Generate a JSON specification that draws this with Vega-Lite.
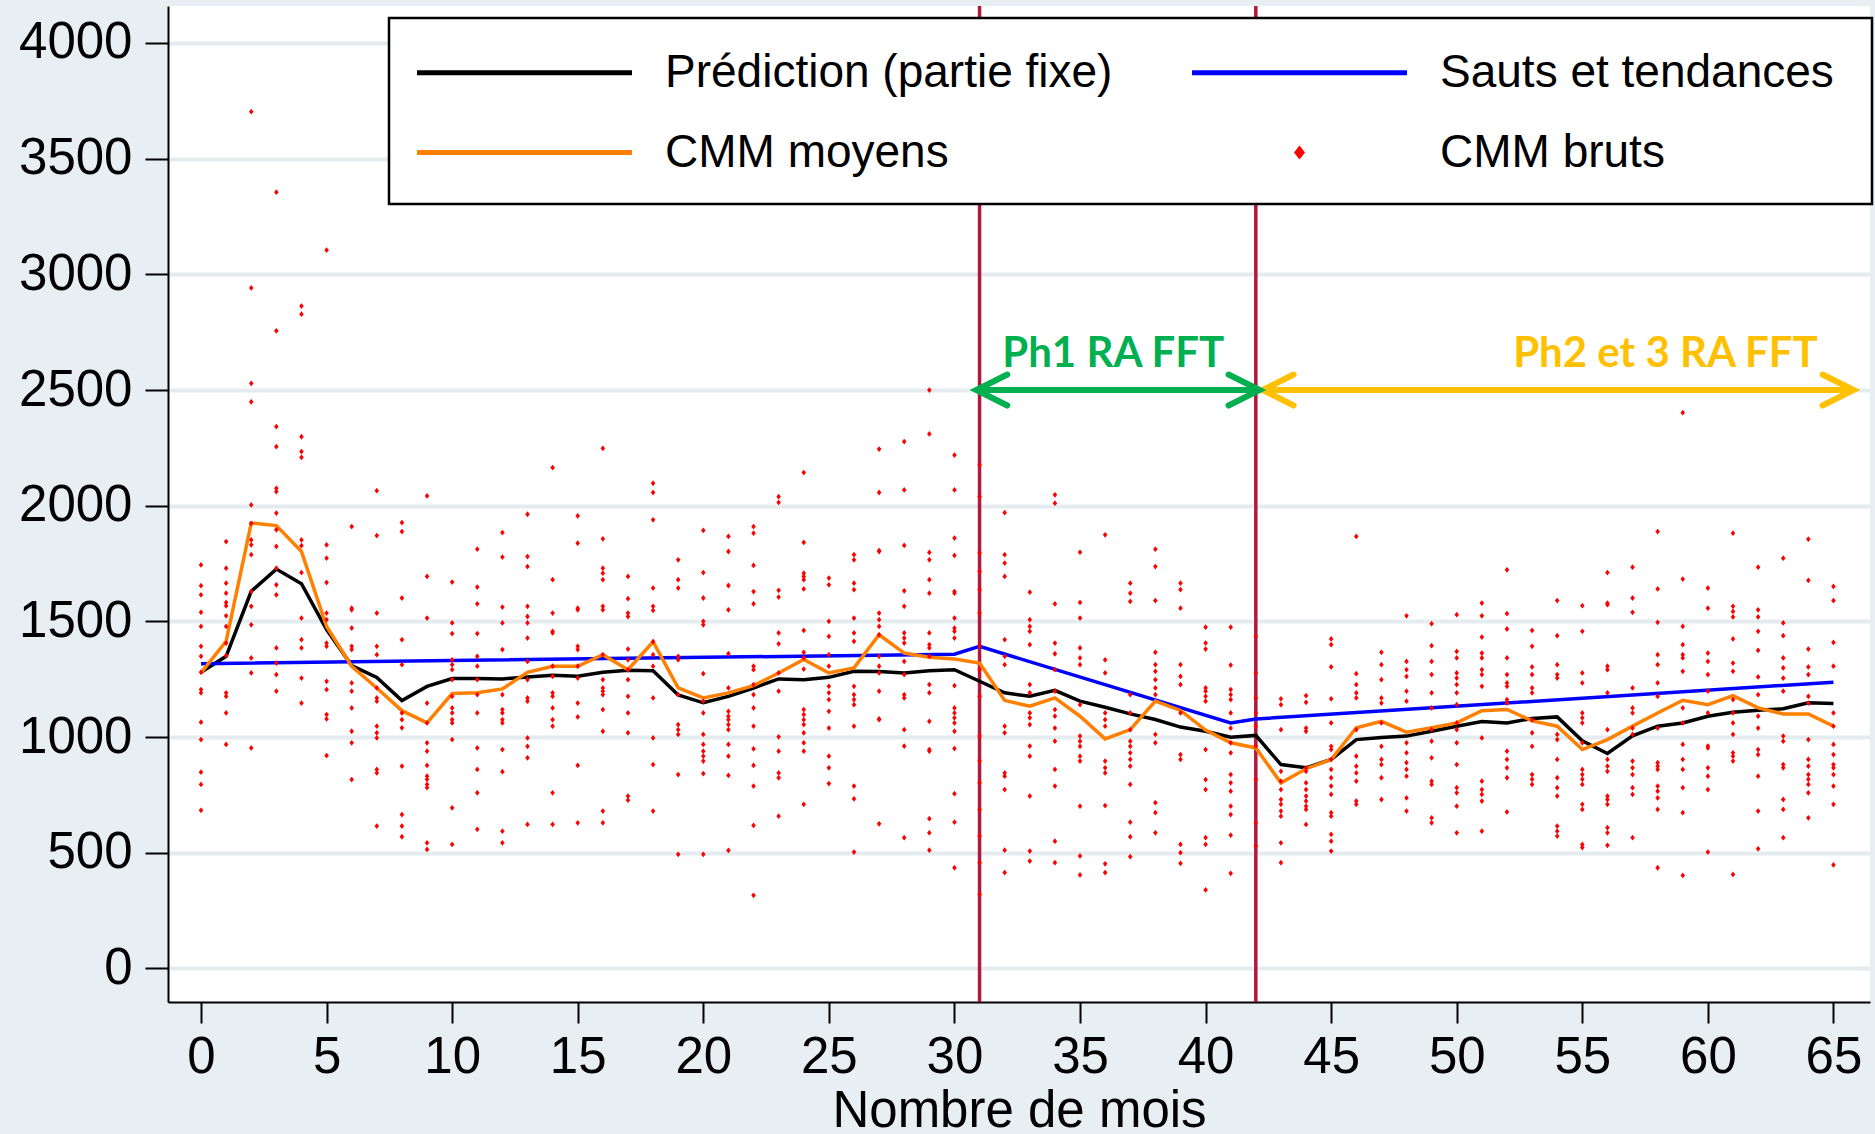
{
  "$schema": "https://vega.github.io/schema/vega-lite/v6.json",
  "width": 1702,
  "height": 996,
  "autosize": {"type": "none"},
  "padding": {"left": 168, "top": 6, "right": 5, "bottom": 132},
  "background": "#E8EFF2",
  "config": {
    "view": {"fill": "white", "stroke": null},
    "font": "Liberation Sans",
    "axis": {"domainColor": "black", "domainWidth": 2, "tickColor": "black", "tickWidth": 2, "labelFont": "Liberation Sans", "labelFontSize": 51, "labelColor": "black", "titleFont": "Liberation Sans", "titleFontSize": 51, "titleColor": "black", "titleFontWeight": "normal", "labelOverlap": false, "labelFlush": false},
    "axisX": {"grid": false, "tickSize": 21, "labelPadding": 9, "titlePadding": 4},
    "axisY": {"grid": true, "gridColor": "#E4ECEF", "gridWidth": 4, "tickSize": 23, "labelPadding": 13},
    "legend": {"strokeWidth": 2.5}
  },
  "datasets": {
    "vlines": [{"m": 31}, {"m": 42}],
    "pred": [
      {"m":0,"v":1280},{"m":1,"v":1349},{"m":2,"v":1630},{"m":3,"v":1726},{"m":4,"v":1663},{"m":5,"v":1464},{"m":6,"v":1309},{"m":7,"v":1258},{"m":8,"v":1158},{"m":9,"v":1219},
      {"m":10,"v":1253},{"m":11,"v":1253},{"m":12,"v":1251},{"m":13,"v":1260},{"m":14,"v":1267},{"m":15,"v":1263},{"m":16,"v":1280},{"m":17,"v":1289},{"m":18,"v":1287},{"m":19,"v":1182},
      {"m":20,"v":1148},{"m":21,"v":1176},{"m":22,"v":1212},{"m":23,"v":1251},{"m":24,"v":1248},{"m":25,"v":1258},{"m":26,"v":1284},{"m":27,"v":1283},{"m":28,"v":1277},{"m":29,"v":1287},
      {"m":30,"v":1291},{"m":31,"v":1241},{"m":32,"v":1191},{"m":33,"v":1176},{"m":34,"v":1202},{"m":35,"v":1155},{"m":36,"v":1129},{"m":37,"v":1100},{"m":38,"v":1076},{"m":39,"v":1043},
      {"m":40,"v":1025},{"m":41,"v":999},{"m":42,"v":1007},{"m":43,"v":881},{"m":44,"v":867},{"m":45,"v":903},{"m":46,"v":989},{"m":47,"v":998},{"m":48,"v":1004},{"m":49,"v":1025},
      {"m":50,"v":1047},{"m":51,"v":1067},{"m":52,"v":1061},{"m":53,"v":1080},{"m":54,"v":1087},{"m":55,"v":984},{"m":56,"v":929},{"m":57,"v":1005},{"m":58,"v":1047},{"m":59,"v":1061},
      {"m":60,"v":1090},{"m":61,"v":1107},{"m":62,"v":1116},{"m":63,"v":1122},{"m":64,"v":1148},{"m":65,"v":1145}
    ],
    "trend": [{"m":0,"v":1317},{"m":30,"v":1358},{"m":31,"v":1392},{"m":41,"v":1061},{"m":42,"v":1078},{"m":65,"v":1237}],
    "moy": [
      {"m":0,"v":1277},{"m":1,"v":1414},{"m":2,"v":1925},{"m":3,"v":1914},{"m":4,"v":1802},{"m":5,"v":1478},{"m":6,"v":1306},{"m":7,"v":1212},{"m":8,"v":1114},{"m":9,"v":1061},
      {"m":10,"v":1188},{"m":11,"v":1191},{"m":12,"v":1208},{"m":13,"v":1280},{"m":14,"v":1306},{"m":15,"v":1306},{"m":16,"v":1356},{"m":17,"v":1291},{"m":18,"v":1412},{"m":19,"v":1213},
      {"m":20,"v":1169},{"m":21,"v":1191},{"m":22,"v":1222},{"m":23,"v":1277},{"m":24,"v":1335},{"m":25,"v":1277},{"m":26,"v":1299},{"m":27,"v":1442},{"m":28,"v":1363},{"m":29,"v":1345},
      {"m":30,"v":1337},{"m":31,"v":1320},{"m":32,"v":1158},{"m":33,"v":1133},{"m":34,"v":1169},{"m":35,"v":1090},{"m":36,"v":992},{"m":37,"v":1032},{"m":38,"v":1155},{"m":39,"v":1115},
      {"m":40,"v":1030},{"m":41,"v":975},{"m":42,"v":953},{"m":43,"v":802},{"m":44,"v":863},{"m":45,"v":903},{"m":46,"v":1040},{"m":47,"v":1068},{"m":48,"v":1021},{"m":49,"v":1040},
      {"m":50,"v":1061},{"m":51,"v":1114},{"m":52,"v":1119},{"m":53,"v":1070},{"m":54,"v":1047},{"m":55,"v":946},{"m":56,"v":989},{"m":57,"v":1047},{"m":58,"v":1104},{"m":59,"v":1159},
      {"m":60,"v":1140},{"m":61,"v":1179},{"m":62,"v":1126},{"m":63,"v":1100},{"m":64,"v":1100},{"m":65,"v":1047}
    ],
    "brut": [
      {"m":0,"v":1744},{"m":0,"v":1654},{"m":0,"v":1615},{"m":0,"v":1539},{"m":0,"v":1478},{"m":0,"v":1392},{"m":0,"v":1349},{"m":0,"v":1280},{"m":0,"v":1205},{"m":0,"v":1191},{"m":0,"v":1064},{"m":0,"v":989},{"m":0,"v":848},{"m":0,"v":795},{"m":0,"v":683},
      {"m":1,"v":1845},{"m":1,"v":1730},{"m":1,"v":1665},{"m":1,"v":1622},{"m":1,"v":1582},{"m":1,"v":1567},{"m":1,"v":1524},{"m":1,"v":1478},{"m":1,"v":1406},{"m":1,"v":1352},{"m":1,"v":1191},{"m":1,"v":1176},{"m":1,"v":1104},{"m":1,"v":968},
      {"m":2,"v":3703},{"m":2,"v":2941},{"m":2,"v":2529},{"m":2,"v":2449},{"m":2,"v":2003},{"m":2,"v":1924},{"m":2,"v":1852},{"m":2,"v":1831},{"m":2,"v":1788},{"m":2,"v":1629},{"m":2,"v":1565},{"m":2,"v":1485},{"m":2,"v":1342},{"m":2,"v":1277},{"m":2,"v":953},
      {"m":3,"v":3355},{"m":3,"v":2756},{"m":3,"v":2342},{"m":3,"v":2255},{"m":3,"v":2075},{"m":3,"v":2061},{"m":3,"v":1968},{"m":3,"v":1896},{"m":3,"v":1824},{"m":3,"v":1730},{"m":3,"v":1658},{"m":3,"v":1615},{"m":3,"v":1385},{"m":3,"v":1320},{"m":3,"v":1270},{"m":3,"v":1198},
      {"m":4,"v":2863},{"m":4,"v":2828},{"m":4,"v":2298},{"m":4,"v":2234},{"m":4,"v":2209},{"m":4,"v":1852},{"m":4,"v":1827},{"m":4,"v":1711},{"m":4,"v":1514},{"m":4,"v":1421},{"m":4,"v":1385},{"m":4,"v":1255},{"m":4,"v":1147},
      {"m":5,"v":3105},{"m":5,"v":1831},{"m":5,"v":1773},{"m":5,"v":1668},{"m":5,"v":1536},{"m":5,"v":1507},{"m":5,"v":1406},{"m":5,"v":1392},{"m":5,"v":1241},{"m":5,"v":1205},{"m":5,"v":1097},{"m":5,"v":1078},{"m":5,"v":920},
      {"m":6,"v":1910},{"m":6,"v":1557},{"m":6,"v":1550},{"m":6,"v":1471},{"m":6,"v":1392},{"m":6,"v":1378},{"m":6,"v":1234},{"m":6,"v":1198},{"m":6,"v":1126},{"m":6,"v":1025},{"m":6,"v":975},{"m":6,"v":816},
      {"m":7,"v":2065},{"m":7,"v":1871},{"m":7,"v":1536},{"m":7,"v":1392},{"m":7,"v":1356},{"m":7,"v":1212},{"m":7,"v":1169},{"m":7,"v":1155},{"m":7,"v":1047},{"m":7,"v":1018},{"m":7,"v":996},{"m":7,"v":860},{"m":7,"v":845},{"m":7,"v":615},
      {"m":8,"v":1927},{"m":8,"v":1888},{"m":8,"v":1601},{"m":8,"v":1421},{"m":8,"v":1313},{"m":8,"v":1104},{"m":8,"v":1075},{"m":8,"v":1040},{"m":8,"v":874},{"m":8,"v":665},{"m":8,"v":615},{"m":8,"v":569},
      {"m":9,"v":2042},{"m":9,"v":1694},{"m":9,"v":1514},{"m":9,"v":1147},{"m":9,"v":1061},{"m":9,"v":975},{"m":9,"v":939},{"m":9,"v":877},{"m":9,"v":831},{"m":9,"v":817},{"m":9,"v":795},{"m":9,"v":781},{"m":9,"v":543},{"m":9,"v":514},
      {"m":10,"v":1670},{"m":10,"v":1493},{"m":10,"v":1447},{"m":10,"v":1334},{"m":10,"v":1313},{"m":10,"v":1291},{"m":10,"v":1248},{"m":10,"v":1176},{"m":10,"v":1126},{"m":10,"v":1104},{"m":10,"v":1075},{"m":10,"v":1061},{"m":10,"v":989},{"m":10,"v":694},{"m":10,"v":536},
      {"m":11,"v":1812},{"m":11,"v":1648},{"m":11,"v":1576},{"m":11,"v":1447},{"m":11,"v":1349},{"m":11,"v":1306},{"m":11,"v":1248},{"m":11,"v":1183},{"m":11,"v":1104},{"m":11,"v":953},{"m":11,"v":860},{"m":11,"v":759},{"m":11,"v":601},
      {"m":12,"v":1884},{"m":12,"v":1778},{"m":12,"v":1562},{"m":12,"v":1493},{"m":12,"v":1378},{"m":12,"v":1183},{"m":12,"v":1119},{"m":12,"v":1104},{"m":12,"v":1075},{"m":12,"v":1061},{"m":12,"v":946},{"m":12,"v":850},{"m":12,"v":593},{"m":12,"v":543},
      {"m":13,"v":1963},{"m":13,"v":1780},{"m":13,"v":1737},{"m":13,"v":1565},{"m":13,"v":1521},{"m":13,"v":1493},{"m":13,"v":1428},{"m":13,"v":1327},{"m":13,"v":1248},{"m":13,"v":1169},{"m":13,"v":1155},{"m":13,"v":996},{"m":13,"v":960},{"m":13,"v":910},{"m":13,"v":622},
      {"m":14,"v":2165},{"m":14,"v":1680},{"m":14,"v":1536},{"m":14,"v":1457},{"m":14,"v":1450},{"m":14,"v":1306},{"m":14,"v":1262},{"m":14,"v":1191},{"m":14,"v":1176},{"m":14,"v":1126},{"m":14,"v":1075},{"m":14,"v":1047},{"m":14,"v":759},{"m":14,"v":622},
      {"m":15,"v":1956},{"m":15,"v":1838},{"m":15,"v":1557},{"m":15,"v":1550},{"m":15,"v":1392},{"m":15,"v":1378},{"m":15,"v":1306},{"m":15,"v":1255},{"m":15,"v":1147},{"m":15,"v":1087},{"m":15,"v":877},{"m":15,"v":629},
      {"m":16,"v":2248},{"m":16,"v":1857},{"m":16,"v":1730},{"m":16,"v":1708},{"m":16,"v":1680},{"m":16,"v":1565},{"m":16,"v":1550},{"m":16,"v":1356},{"m":16,"v":1248},{"m":16,"v":1212},{"m":16,"v":1198},{"m":16,"v":1183},{"m":16,"v":1119},{"m":16,"v":1025},{"m":16,"v":680},{"m":16,"v":629},
      {"m":17,"v":1694},{"m":17,"v":1598},{"m":17,"v":1536},{"m":17,"v":1521},{"m":17,"v":1380},{"m":17,"v":1334},{"m":17,"v":1291},{"m":17,"v":1248},{"m":17,"v":1176},{"m":17,"v":1104},{"m":17,"v":1018},{"m":17,"v":745},{"m":17,"v":727},
      {"m":18,"v":2097},{"m":18,"v":2057},{"m":18,"v":1939},{"m":18,"v":1644},{"m":18,"v":1565},{"m":18,"v":1547},{"m":18,"v":1412},{"m":18,"v":1356},{"m":18,"v":1306},{"m":18,"v":1169},{"m":18,"v":996},{"m":18,"v":881},{"m":18,"v":680},
      {"m":19,"v":1766},{"m":19,"v":1680},{"m":19,"v":1644},{"m":19,"v":1349},{"m":19,"v":1334},{"m":19,"v":1183},{"m":19,"v":1054},{"m":19,"v":1032},{"m":19,"v":1011},{"m":19,"v":838},{"m":19,"v":493},
      {"m":20,"v":1893},{"m":20,"v":1711},{"m":20,"v":1601},{"m":20,"v":1500},{"m":20,"v":1485},{"m":20,"v":1274},{"m":20,"v":1155},{"m":20,"v":1104},{"m":20,"v":1011},{"m":20,"v":968},{"m":20,"v":939},{"m":20,"v":917},{"m":20,"v":896},{"m":20,"v":842},{"m":20,"v":493},
      {"m":21,"v":1867},{"m":21,"v":1802},{"m":21,"v":1655},{"m":21,"v":1550},{"m":21,"v":1360},{"m":21,"v":1212},{"m":21,"v":1111},{"m":21,"v":1090},{"m":21,"v":1075},{"m":21,"v":1054},{"m":21,"v":1032},{"m":21,"v":968},{"m":21,"v":917},{"m":21,"v":834},{"m":21,"v":510},
      {"m":22,"v":1910},{"m":22,"v":1881},{"m":22,"v":1742},{"m":22,"v":1629},{"m":22,"v":1576},{"m":22,"v":1306},{"m":22,"v":1291},{"m":22,"v":1227},{"m":22,"v":1183},{"m":22,"v":1126},{"m":22,"v":1047},{"m":22,"v":949},{"m":22,"v":877},{"m":22,"v":788},{"m":22,"v":618},{"m":22,"v":316},
      {"m":23,"v":2039},{"m":23,"v":2014},{"m":23,"v":1634},{"m":23,"v":1605},{"m":23,"v":1450},{"m":23,"v":1403},{"m":23,"v":1277},{"m":23,"v":1198},{"m":23,"v":1001},{"m":23,"v":939},{"m":23,"v":845},{"m":23,"v":824},{"m":23,"v":658},
      {"m":24,"v":2143},{"m":24,"v":1841},{"m":24,"v":1708},{"m":24,"v":1694},{"m":24,"v":1680},{"m":24,"v":1640},{"m":24,"v":1461},{"m":24,"v":1366},{"m":24,"v":1342},{"m":24,"v":1294},{"m":24,"v":1119},{"m":24,"v":1097},{"m":24,"v":1075},{"m":24,"v":1054},{"m":24,"v":1018},{"m":24,"v":975},{"m":24,"v":939},{"m":24,"v":709},
      {"m":25,"v":1687},{"m":25,"v":1658},{"m":25,"v":1500},{"m":25,"v":1435},{"m":25,"v":1356},{"m":25,"v":1306},{"m":25,"v":1219},{"m":25,"v":1191},{"m":25,"v":1162},{"m":25,"v":1111},{"m":25,"v":1039},{"m":25,"v":917},{"m":25,"v":867},{"m":25,"v":799},
      {"m":26,"v":1788},{"m":26,"v":1766},{"m":26,"v":1665},{"m":26,"v":1637},{"m":26,"v":1514},{"m":26,"v":1450},{"m":26,"v":1414},{"m":26,"v":1219},{"m":26,"v":1183},{"m":26,"v":1162},{"m":26,"v":1140},{"m":26,"v":1047},{"m":26,"v":788},{"m":26,"v":733},{"m":26,"v":503},
      {"m":27,"v":2245},{"m":27,"v":2057},{"m":27,"v":1806},{"m":27,"v":1802},{"m":27,"v":1536},{"m":27,"v":1507},{"m":27,"v":1478},{"m":27,"v":1442},{"m":27,"v":1349},{"m":27,"v":1306},{"m":27,"v":1277},{"m":27,"v":1198},{"m":27,"v":1078},{"m":27,"v":1075},{"m":27,"v":625},
      {"m":28,"v":2277},{"m":28,"v":2068},{"m":28,"v":1828},{"m":28,"v":1632},{"m":28,"v":1565},{"m":28,"v":1450},{"m":28,"v":1428},{"m":28,"v":1406},{"m":28,"v":1327},{"m":28,"v":1270},{"m":28,"v":1183},{"m":28,"v":1169},{"m":28,"v":1032},{"m":28,"v":961},{"m":28,"v":565},
      {"m":29,"v":2500},{"m":29,"v":2310},{"m":29,"v":1798},{"m":29,"v":1766},{"m":29,"v":1680},{"m":29,"v":1622},{"m":29,"v":1450},{"m":29,"v":1399},{"m":29,"v":1385},{"m":29,"v":1349},{"m":29,"v":1227},{"m":29,"v":1191},{"m":29,"v":1068},{"m":29,"v":946},{"m":29,"v":939},{"m":29,"v":647},{"m":29,"v":586},{"m":29,"v":511},
      {"m":30,"v":2219},{"m":30,"v":2068},{"m":30,"v":1860},{"m":30,"v":1785},{"m":30,"v":1629},{"m":30,"v":1622},{"m":30,"v":1514},{"m":30,"v":1471},{"m":30,"v":1457},{"m":30,"v":1428},{"m":30,"v":1222},{"m":30,"v":1126},{"m":30,"v":1104},{"m":30,"v":1083},{"m":30,"v":1061},{"m":30,"v":1025},{"m":30,"v":950},{"m":30,"v":755},{"m":30,"v":632},{"m":30,"v":435},
      {"m":31,"v":2176},{"m":31,"v":2039},{"m":31,"v":1795},{"m":31,"v":1716},{"m":31,"v":1637},{"m":31,"v":1536},{"m":31,"v":1392},{"m":31,"v":1291},{"m":31,"v":1176},{"m":31,"v":1004},{"m":31,"v":896},{"m":31,"v":802},{"m":31,"v":687},{"m":31,"v":572},{"m":31,"v":457},{"m":31,"v":320},
      {"m":32,"v":1970},{"m":32,"v":1788},{"m":32,"v":1752},{"m":32,"v":1694},{"m":32,"v":1421},{"m":32,"v":1349},{"m":32,"v":1313},{"m":32,"v":1047},{"m":32,"v":1018},{"m":32,"v":845},{"m":32,"v":831},{"m":32,"v":773},{"m":32,"v":511},{"m":32,"v":414},
      {"m":33,"v":1626},{"m":33,"v":1507},{"m":33,"v":1478},{"m":33,"v":1457},{"m":33,"v":1399},{"m":33,"v":1227},{"m":33,"v":1191},{"m":33,"v":1104},{"m":33,"v":1083},{"m":33,"v":1054},{"m":33,"v":961},{"m":33,"v":917},{"m":33,"v":745},{"m":33,"v":507},{"m":33,"v":464},
      {"m":34,"v":2047},{"m":34,"v":2011},{"m":34,"v":1576},{"m":34,"v":1406},{"m":34,"v":1360},{"m":34,"v":1291},{"m":34,"v":1198},{"m":34,"v":1119},{"m":34,"v":1090},{"m":34,"v":1039},{"m":34,"v":982},{"m":34,"v":860},{"m":34,"v":788},{"m":34,"v":550},{"m":34,"v":457},
      {"m":35,"v":1799},{"m":35,"v":1582},{"m":35,"v":1514},{"m":35,"v":1385},{"m":35,"v":1342},{"m":35,"v":1313},{"m":35,"v":1140},{"m":35,"v":1004},{"m":35,"v":982},{"m":35,"v":960},{"m":35,"v":917},{"m":35,"v":896},{"m":35,"v":701},{"m":35,"v":486},{"m":35,"v":404},
      {"m":36,"v":1874},{"m":36,"v":1334},{"m":36,"v":1277},{"m":36,"v":1104},{"m":36,"v":1075},{"m":36,"v":1047},{"m":36,"v":896},{"m":36,"v":867},{"m":36,"v":845},{"m":36,"v":704},{"m":36,"v":452},{"m":36,"v":414},
      {"m":37,"v":1665},{"m":37,"v":1622},{"m":37,"v":1586},{"m":37,"v":1183},{"m":37,"v":1104},{"m":37,"v":1032},{"m":37,"v":982},{"m":37,"v":960},{"m":37,"v":932},{"m":37,"v":903},{"m":37,"v":874},{"m":37,"v":795},{"m":37,"v":632},{"m":37,"v":569},{"m":37,"v":483},
      {"m":38,"v":1812},{"m":38,"v":1737},{"m":38,"v":1590},{"m":38,"v":1366},{"m":38,"v":1313},{"m":38,"v":1284},{"m":38,"v":1248},{"m":38,"v":1212},{"m":38,"v":1183},{"m":38,"v":1011},{"m":38,"v":975},{"m":38,"v":716},{"m":38,"v":673},{"m":38,"v":586},
      {"m":39,"v":1665},{"m":39,"v":1637},{"m":39,"v":1557},{"m":39,"v":1313},{"m":39,"v":1262},{"m":39,"v":1227},{"m":39,"v":1104},{"m":39,"v":924},{"m":39,"v":903},{"m":39,"v":536},{"m":39,"v":500},{"m":39,"v":454},
      {"m":40,"v":1475},{"m":40,"v":1406},{"m":40,"v":1380},{"m":40,"v":1212},{"m":40,"v":1198},{"m":40,"v":1176},{"m":40,"v":1155},{"m":40,"v":946},{"m":40,"v":816},{"m":40,"v":773},{"m":40,"v":565},{"m":40,"v":536},{"m":40,"v":339},
      {"m":41,"v":1475},{"m":41,"v":1311},{"m":41,"v":1205},{"m":41,"v":1183},{"m":41,"v":1162},{"m":41,"v":1104},{"m":41,"v":1039},{"m":41,"v":975},{"m":41,"v":932},{"m":41,"v":838},{"m":41,"v":802},{"m":41,"v":766},{"m":41,"v":701},{"m":41,"v":665},{"m":41,"v":576},{"m":41,"v":411},
      {"m":42,"v":1435},{"m":42,"v":1277},{"m":42,"v":1169},{"m":42,"v":1104},{"m":42,"v":1047},{"m":42,"v":961},{"m":42,"v":817},{"m":42,"v":629},{"m":42,"v":529},
      {"m":43,"v":1165},{"m":43,"v":1140},{"m":43,"v":1032},{"m":43,"v":852},{"m":43,"v":809},{"m":43,"v":773},{"m":43,"v":730},{"m":43,"v":709},{"m":43,"v":680},{"m":43,"v":658},{"m":43,"v":543},{"m":43,"v":457},
      {"m":44,"v":1179},{"m":44,"v":1150},{"m":44,"v":1039},{"m":44,"v":1025},{"m":44,"v":867},{"m":44,"v":852},{"m":44,"v":802},{"m":44,"v":773},{"m":44,"v":745},{"m":44,"v":723},{"m":44,"v":701},{"m":44,"v":687},{"m":44,"v":622},
      {"m":45,"v":1424},{"m":45,"v":1399},{"m":45,"v":1303},{"m":45,"v":1165},{"m":45,"v":1061},{"m":45,"v":960},{"m":45,"v":946},{"m":45,"v":903},{"m":45,"v":860},{"m":45,"v":824},{"m":45,"v":788},{"m":45,"v":752},{"m":45,"v":673},{"m":45,"v":658},{"m":45,"v":579},{"m":45,"v":550},{"m":45,"v":507},
      {"m":46,"v":1867},{"m":46,"v":1274},{"m":46,"v":1227},{"m":46,"v":1191},{"m":46,"v":1169},{"m":46,"v":1032},{"m":46,"v":917},{"m":46,"v":874},{"m":46,"v":845},{"m":46,"v":809},{"m":46,"v":723},{"m":46,"v":709},
      {"m":47,"v":1366},{"m":47,"v":1313},{"m":47,"v":1248},{"m":47,"v":1169},{"m":47,"v":1147},{"m":47,"v":1061},{"m":47,"v":960},{"m":47,"v":903},{"m":47,"v":881},{"m":47,"v":824},{"m":47,"v":730},
      {"m":48,"v":1524},{"m":48,"v":1327},{"m":48,"v":1291},{"m":48,"v":1262},{"m":48,"v":1198},{"m":48,"v":1155},{"m":48,"v":975},{"m":48,"v":932},{"m":48,"v":889},{"m":48,"v":860},{"m":48,"v":831},{"m":48,"v":737},{"m":48,"v":680},
      {"m":49,"v":1490},{"m":49,"v":1395},{"m":49,"v":1327},{"m":49,"v":1270},{"m":49,"v":1191},{"m":49,"v":1126},{"m":49,"v":1032},{"m":49,"v":982},{"m":49,"v":910},{"m":49,"v":809},{"m":49,"v":795},{"m":49,"v":651},{"m":49,"v":629},
      {"m":50,"v":1529},{"m":50,"v":1370},{"m":50,"v":1342},{"m":50,"v":1277},{"m":50,"v":1255},{"m":50,"v":1227},{"m":50,"v":1191},{"m":50,"v":1140},{"m":50,"v":1061},{"m":50,"v":1032},{"m":50,"v":975},{"m":50,"v":881},{"m":50,"v":781},{"m":50,"v":759},{"m":50,"v":701},{"m":50,"v":586},
      {"m":51,"v":1579},{"m":51,"v":1524},{"m":51,"v":1432},{"m":51,"v":1363},{"m":51,"v":1342},{"m":51,"v":1291},{"m":51,"v":1270},{"m":51,"v":1219},{"m":51,"v":996},{"m":51,"v":809},{"m":51,"v":773},{"m":51,"v":752},{"m":51,"v":723},{"m":51,"v":593},
      {"m":52,"v":1723},{"m":52,"v":1533},{"m":52,"v":1467},{"m":52,"v":1342},{"m":52,"v":1270},{"m":52,"v":1234},{"m":52,"v":1219},{"m":52,"v":1162},{"m":52,"v":1147},{"m":52,"v":939},{"m":52,"v":903},{"m":52,"v":867},{"m":52,"v":824},{"m":52,"v":676},
      {"m":53,"v":1461},{"m":53,"v":1392},{"m":53,"v":1303},{"m":53,"v":1270},{"m":53,"v":1212},{"m":53,"v":1191},{"m":53,"v":1075},{"m":53,"v":1018},{"m":53,"v":960},{"m":53,"v":838},{"m":53,"v":817},{"m":53,"v":795},
      {"m":54,"v":1590},{"m":54,"v":1438},{"m":54,"v":1313},{"m":54,"v":1270},{"m":54,"v":1255},{"m":54,"v":1011},{"m":54,"v":989},{"m":54,"v":903},{"m":54,"v":824},{"m":54,"v":781},{"m":54,"v":745},{"m":54,"v":615},{"m":54,"v":593},{"m":54,"v":572},
      {"m":55,"v":1568},{"m":55,"v":1457},{"m":55,"v":1277},{"m":55,"v":1234},{"m":55,"v":1104},{"m":55,"v":1083},{"m":55,"v":1061},{"m":55,"v":975},{"m":55,"v":860},{"m":55,"v":838},{"m":55,"v":817},{"m":55,"v":795},{"m":55,"v":709},{"m":55,"v":687},{"m":55,"v":536},{"m":55,"v":522},
      {"m":56,"v":1711},{"m":56,"v":1579},{"m":56,"v":1572},{"m":56,"v":1306},{"m":56,"v":1291},{"m":56,"v":1191},{"m":56,"v":1032},{"m":56,"v":903},{"m":56,"v":874},{"m":56,"v":852},{"m":56,"v":745},{"m":56,"v":730},{"m":56,"v":709},{"m":56,"v":608},{"m":56,"v":586},{"m":56,"v":532},
      {"m":57,"v":1734},{"m":57,"v":1601},{"m":57,"v":1539},{"m":57,"v":1212},{"m":57,"v":1126},{"m":57,"v":1104},{"m":57,"v":1039},{"m":57,"v":1011},{"m":57,"v":896},{"m":57,"v":867},{"m":57,"v":838},{"m":57,"v":781},{"m":57,"v":752},{"m":57,"v":565},
      {"m":58,"v":1888},{"m":58,"v":1640},{"m":58,"v":1496},{"m":58,"v":1356},{"m":58,"v":1313},{"m":58,"v":1234},{"m":58,"v":1176},{"m":58,"v":1039},{"m":58,"v":889},{"m":58,"v":874},{"m":58,"v":860},{"m":58,"v":788},{"m":58,"v":766},{"m":58,"v":737},{"m":58,"v":687},{"m":58,"v":435},
      {"m":59,"v":2402},{"m":59,"v":1683},{"m":59,"v":1478},{"m":59,"v":1399},{"m":59,"v":1356},{"m":59,"v":1342},{"m":59,"v":1284},{"m":59,"v":1126},{"m":59,"v":1061},{"m":59,"v":968},{"m":59,"v":903},{"m":59,"v":860},{"m":59,"v":781},{"m":59,"v":673},{"m":59,"v":402},
      {"m":60,"v":1644},{"m":60,"v":1557},{"m":60,"v":1363},{"m":60,"v":1327},{"m":60,"v":1270},{"m":60,"v":1198},{"m":60,"v":1104},{"m":60,"v":961},{"m":60,"v":953},{"m":60,"v":867},{"m":60,"v":831},{"m":60,"v":773},{"m":60,"v":503},
      {"m":61,"v":1881},{"m":61,"v":1565},{"m":61,"v":1543},{"m":61,"v":1519},{"m":61,"v":1424},{"m":61,"v":1320},{"m":61,"v":1284},{"m":61,"v":1162},{"m":61,"v":1104},{"m":61,"v":1061},{"m":61,"v":1011},{"m":61,"v":932},{"m":61,"v":917},{"m":61,"v":896},{"m":61,"v":406},
      {"m":62,"v":1734},{"m":62,"v":1550},{"m":62,"v":1519},{"m":62,"v":1457},{"m":62,"v":1375},{"m":62,"v":1260},{"m":62,"v":1183},{"m":62,"v":1090},{"m":62,"v":1039},{"m":62,"v":946},{"m":62,"v":924},{"m":62,"v":831},{"m":62,"v":680},{"m":62,"v":517},
      {"m":63,"v":1773},{"m":63,"v":1493},{"m":63,"v":1438},{"m":63,"v":1342},{"m":63,"v":1299},{"m":63,"v":1255},{"m":63,"v":1198},{"m":63,"v":1004},{"m":63,"v":982},{"m":63,"v":881},{"m":63,"v":867},{"m":63,"v":730},{"m":63,"v":687},{"m":63,"v":565},
      {"m":64,"v":1855},{"m":64,"v":1677},{"m":64,"v":1380},{"m":64,"v":1303},{"m":64,"v":1270},{"m":64,"v":1176},{"m":64,"v":1147},{"m":64,"v":989},{"m":64,"v":903},{"m":64,"v":874},{"m":64,"v":838},{"m":64,"v":817},{"m":64,"v":795},{"m":64,"v":759},{"m":64,"v":651},
      {"m":65,"v":1651},{"m":65,"v":1590},{"m":65,"v":1409},{"m":65,"v":1306},{"m":65,"v":1104},{"m":65,"v":1047},{"m":65,"v":968},{"m":65,"v":924},{"m":65,"v":881},{"m":65,"v":867},{"m":65,"v":838},{"m":65,"v":788},{"m":65,"v":709},{"m":65,"v":447}
    ],
    "arrows": [{"m":30.87,"m2":42.15,"v":2500,"ph":"Ph1"},{"m":42.27,"m2":65.8,"v":2500,"ph":"Ph23"}],
    "heads": [{"m":30.87,"v":2500,"ph":"Ph1","dir":"L"},{"m":42.15,"v":2500,"ph":"Ph1","dir":"R"},{"m":42.27,"v":2500,"ph":"Ph23","dir":"L"},{"m":65.8,"v":2500,"ph":"Ph23","dir":"R"}],
    "labels": [{"m":36.32,"v":2601,"t":"Ph1 RA FFT","ph":"Ph1"},{"m":58.31,"v":2601,"t":"Ph2 et 3 RA FFT","ph":"Ph23"}]
  },
  "layer": [
    {
      "data": {"name": "vlines"},
      "mark": {"type": "rule", "color": "#B2173D", "strokeWidth": 3.5},
      "encoding": {
        "x": {"field": "m", "type": "quantitative", "scale": {"domain": [-1.314, 66.455], "nice": false, "zero": false},
              "axis": {"values": [0,5,10,15,20,25,30,35,40,45,50,55,60,65], "title": "Nombre de mois", "format": "d"}}
      }
    },
    {
      "data": {"name": "pred"},
      "mark": {"type": "line", "strokeWidth": 3.5},
      "encoding": {
        "x": {"field": "m", "type": "quantitative", "title": "Nombre de mois", "scale": {"domain": [-1.314, 66.455], "nice": false, "zero": false}},
        "y": {"field": "v", "type": "quantitative", "scale": {"domain": [-145.3, 4159.9], "nice": false, "zero": false},
              "axis": {"values": [0,500,1000,1500,2000,2500,3000,3500,4000], "title": null, "format": "d"}},
        "color": {"datum": "Prédiction (partie fixe)", "type": "nominal"}
      }
    },
    {
      "data": {"name": "trend"},
      "mark": {"type": "line", "strokeWidth": 3.5},
      "encoding": {
        "x": {"field": "m", "type": "quantitative", "title": "Nombre de mois", "scale": {"domain": [-1.314, 66.455], "nice": false, "zero": false}},
        "y": {"field": "v", "type": "quantitative", "title": null, "scale": {"domain": [-145.3, 4159.9], "nice": false, "zero": false}},
        "color": {"datum": "Sauts et tendances", "type": "nominal"}
      }
    },
    {
      "data": {"name": "moy"},
      "mark": {"type": "line", "strokeWidth": 3.5},
      "encoding": {
        "x": {"field": "m", "type": "quantitative", "title": "Nombre de mois", "scale": {"domain": [-1.314, 66.455], "nice": false, "zero": false}},
        "y": {"field": "v", "type": "quantitative", "title": null, "scale": {"domain": [-145.3, 4159.9], "nice": false, "zero": false}},
        "color": {"datum": "CMM moyens", "type": "nominal"}
      }
    },
    {
      "data": {"name": "brut"},
      "mark": {"type": "point", "size": 2304, "filled": true, "opacity": 1},
      "encoding": {
        "x": {"field": "m", "type": "quantitative", "title": "Nombre de mois", "scale": {"domain": [-1.314, 66.455], "nice": false, "zero": false}},
        "y": {"field": "v", "type": "quantitative", "title": null, "scale": {"domain": [-145.3, 4159.9], "nice": false, "zero": false}},
        "color": {"datum": "CMM bruts", "type": "nominal",
          "scale": {"domain": ["Prédiction (partie fixe)", "Sauts et tendances", "CMM moyens", "CMM bruts"], "range": ["#000000", "#0000FF", "#FF8000", "#FF0000"]},
          "legend": {
            "title": " ", "titleOrient": "right", "titlePadding": 10, "titleFontSize": 10, "orient": "none", "direction": "horizontal", "legendX": 221, "legendY": 12, "columns": 2,
            "columnPadding": 68, "rowPadding": 30, "padding": 28,
            "fillColor": "white", "strokeColor": "black",
            "labelFont": "Liberation Sans", "labelFontSize": 46, "labelColor": "black", "labelLimit": 1000,
            "labelOffset": 114, "symbolOffset": 81, "symbolSize": 2304, "symbolStrokeWidth": 5, "symbolOpacity": 1, "zindex": 2
          }
        },
        "shape": {"datum": "CMM bruts", "type": "nominal",
          "scale": {"domain": ["Prédiction (partie fixe)", "Sauts et tendances", "CMM moyens", "CMM bruts"], "range": ["M-4.48,0H4.48", "M-4.48,0H4.48", "M-4.48,0H4.48", "M0,-0.12L0.095,0L0,0.12L-0.095,0Z"]},
          "legend": {
            "title": " ", "titleOrient": "right", "titlePadding": 10, "titleFontSize": 10, "orient": "none", "direction": "horizontal", "legendX": 221, "legendY": 12, "columns": 2,
            "columnPadding": 68, "rowPadding": 30, "padding": 28,
            "fillColor": "white", "strokeColor": "black",
            "labelFont": "Liberation Sans", "labelFontSize": 46, "labelColor": "black", "labelLimit": 1000,
            "labelOffset": 114, "symbolOffset": 81, "symbolSize": 2304, "symbolStrokeWidth": 5, "symbolOpacity": 1, "zindex": 2
          }
        }
      }
    },
    {
      "data": {"name": "arrows"},
      "mark": {"type": "rule", "strokeWidth": 6, "strokeCap": "butt"},
      "encoding": {
        "x": {"field": "m", "type": "quantitative", "title": "Nombre de mois", "scale": {"domain": [-1.314, 66.455], "nice": false, "zero": false}},
        "x2": {"field": "m2"},
        "y": {"field": "v", "type": "quantitative", "title": null, "scale": {"domain": [-145.3, 4159.9], "nice": false, "zero": false}},
        "stroke": {"field": "ph", "type": "nominal", "scale": {"domain": ["Ph1", "Ph23"], "range": ["#00B050", "#FFC000"]}, "legend": null}
      }
    },
    {
      "data": {"name": "heads"},
      "transform": [{"filter": "datum.dir === 'L'"}],
      "mark": {"type": "point", "shape": "M1.24,-0.62L0,0L1.24,0.62", "filled": false, "size": 2500, "strokeWidth": 6, "strokeCap": "round", "strokeJoin": "miter", "opacity": 1},
      "encoding": {
        "x": {"field": "m", "type": "quantitative", "title": "Nombre de mois", "scale": {"domain": [-1.314, 66.455], "nice": false, "zero": false}},
        "y": {"field": "v", "type": "quantitative", "title": null, "scale": {"domain": [-145.3, 4159.9], "nice": false, "zero": false}},
        "stroke": {"field": "ph", "type": "nominal", "legend": null}
      }
    },
    {
      "data": {"name": "heads"},
      "transform": [{"filter": "datum.dir === 'R'"}],
      "mark": {"type": "point", "shape": "M-1.24,-0.62L0,0L-1.24,0.62", "filled": false, "size": 2500, "strokeWidth": 6, "strokeCap": "round", "strokeJoin": "miter", "opacity": 1},
      "encoding": {
        "x": {"field": "m", "type": "quantitative", "title": "Nombre de mois", "scale": {"domain": [-1.314, 66.455], "nice": false, "zero": false}},
        "y": {"field": "v", "type": "quantitative", "title": null, "scale": {"domain": [-145.3, 4159.9], "nice": false, "zero": false}},
        "stroke": {"field": "ph", "type": "nominal", "legend": null}
      }
    },
    {
      "data": {"name": "labels"},
      "mark": {"type": "text", "font": "Lato", "fontWeight": "bold", "fontSize": 42, "baseline": "alphabetic", "align": "center"},
      "encoding": {
        "x": {"field": "m", "type": "quantitative", "title": "Nombre de mois", "scale": {"domain": [-1.314, 66.455], "nice": false, "zero": false}},
        "y": {"field": "v", "type": "quantitative", "title": null, "scale": {"domain": [-145.3, 4159.9], "nice": false, "zero": false}},
        "text": {"field": "t", "type": "nominal"},
        "fill": {"field": "ph", "type": "nominal", "scale": {"domain": ["Ph1", "Ph23"], "range": ["#00B050", "#FFC000"]}, "legend": null}
      }
    }
  ]
}
